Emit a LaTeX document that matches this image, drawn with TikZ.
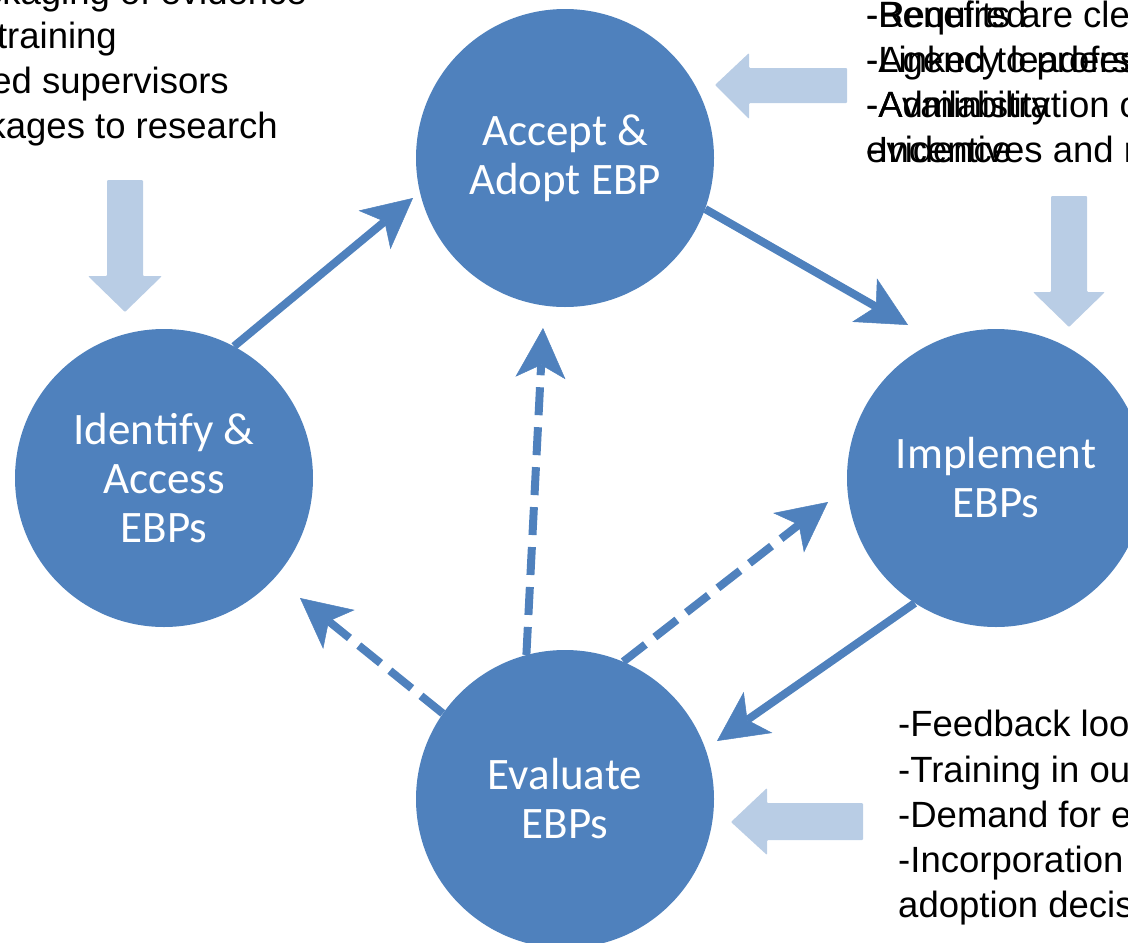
\documentclass[tikz,border=0pt]{standalone}
\usepackage{fontspec}
\setmainfont{Liberation Sans}
\newfontfamily\calib{Carlito}
\usetikzlibrary{arrows.meta}
\definecolor{ebpblue}{HTML}{4F81BD}
\definecolor{lightarrow}{HTML}{B9CDE5}
\begin{document}
\begin{tikzpicture}[x=1pt,y=-1pt,
  stage/.style={circle, fill=ebpblue, minimum size=298pt, inner sep=0pt, text=white, align=center, font=\calib\fontsize{45}{49}\selectfont},
  conn/.style={draw=ebpblue, line width=8pt, -{Stealth[length=50pt,width=50pt,inset=13pt,line width=0.5pt]}},
  dconn/.style={conn, dash pattern=on 28pt off 12pt},
  txt/.style={anchor=base west, inner sep=0pt, font=\fontsize{36.5}{45}\selectfont},
  txtr/.style={txt, anchor=base east},
  bigarrow/.style={fill=lightarrow, rounded corners=1pt}]
\useasboundingbox (0,0) rectangle (1128,943);
\clip (0,0) rectangle (1128,943);

% circles
\node[stage] (accept) at (565,158) {Accept \&\\Adopt EBP};
\node[stage] (identify) at (164,478) {Identify \&\\Access\\EBPs};
\node[stage] (implement) at (996,478) {Implement\\EBPs};
\node[stage] (evaluate) at (565,799) {Evaluate\\EBPs};

% arrow tips
\coordinate (t1) at (413,198);
\coordinate (t2) at (908,325);
\coordinate (t3) at (717,741);
\coordinate (t4) at (543,328);
\coordinate (t5) at (828,502);
\coordinate (t6) at (300,598);

\draw[conn] (identify.62) -- (t1);
\draw[conn] (accept.-20) -- (t2);
\draw[conn] (implement.237) -- (t3);
\draw[dconn] (evaluate.105) -- (t4);
\draw[dconn] (evaluate.67) -- (t5);
\draw[dconn] (evaluate.145) -- (t6);

% light block arrows
\fill[bigarrow] (107,180) -- (143,180) -- (143,276) -- (162,276) -- (125,312) -- (88,276) -- (107,276) -- cycle;
\fill[bigarrow] (1051,196) -- (1087,196) -- (1087,292) -- (1105,292) -- (1069,327) -- (1033,292) -- (1051,292) -- cycle;
\fill[bigarrow] (847,68) -- (847,103) -- (749,103) -- (749,119) -- (715,85) -- (749,53) -- (749,68) -- cycle;
\fill[bigarrow] (863,803) -- (863,840) -- (767,840) -- (767,855) -- (731,822) -- (767,788) -- (767,803) -- cycle;

% top-left text
\node[txtr] (l1) at (307,4) {-Packaging of evidence};
\node[txtr] (l2) at (117,48) {-Staff training};
\node[txtr] (l3) at (229,93) {-Trained supervisors};
\node[txtr] (l4) at (278,138) {-Linkages to research};

% top-right text (two overlapping blocks)
\node[txt] (a1) at (866,27) {-Benefits are clear};
\node[txt] (a2) at (866,72) {-Linked to professional values};
\node[txt] (a3) at (866,117) {-Administration of the};
\node[txt] (a4) at (866,162) {-Incentives and rewards};
\node[txt] (b1) at (866,27) {-Required};
\node[txt] (b2) at (866,72) {-Agency leaders};
\node[txt] (b3) at (866,117) {-Availability};
\node[txt] (b4) at (866,162) {evidence};

% bottom-right text
\node[txt] (c1) at (898,736) {-Feedback loops};
\node[txt] (c2) at (898,782) {-Training in outcome measurement};
\node[txt] (c3) at (898,827) {-Demand for evidence};
\node[txt] (c4) at (898,872) {-Incorporation of evidence into};
\node[txt] (c5) at (898,917) {adoption decisions};
\end{tikzpicture}
\end{document}
